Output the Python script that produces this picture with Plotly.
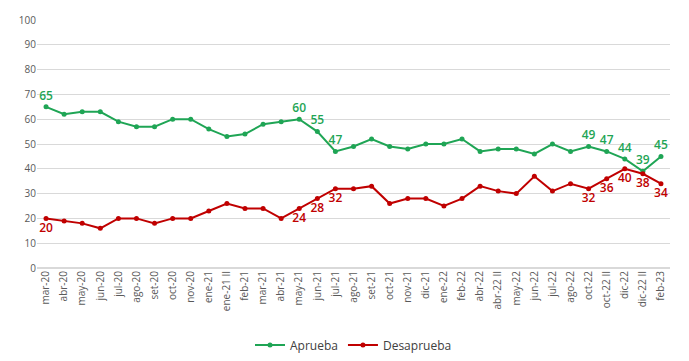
import plotly.graph_objects as go

categories = ["mar-20", "abr-20", "may-20", "jun-20", "jul-20", "ago-20", "set-20", "oct-20", "nov-20",
              "ene-21", "ene-21 II", "feb-21", "mar-21", "abr-21", "may-21", "jun-21", "jul-21", "ago-21",
              "set-21", "oct-21", "nov-21", "dic-21", "ene-22", "feb-22", "abr-22", "abr-22 II", "may-22",
              "jun-22", "jul-22", "ago-22", "oct-22", "oct-22 II", "dic-22", "dic-22 II", "feb-23"]
aprueba = [65, 62, 63, 63, 59, 57, 57, 60, 60, 56, 53, 54, 58, 59, 60, 55, 47, 49, 52, 49, 48, 50, 50, 52,
           47, 48, 48, 46, 50, 47, 49, 47, 44, 39, 45]
desaprueba = [20, 19, 18, 16, 20, 20, 18, 20, 20, 23, 26, 24, 24, 20, 24, 28, 32, 32, 33, 26, 28, 28, 25, 28,
              33, 31, 30, 37, 31, 34, 32, 36, 40, 38, 34]
labeled = [0, 14, 15, 16, 30, 31, 32, 33, 34]
yticks = list(range(0, 101, 10))

green = "#1fa555"
red = "#c00000"

ap_text = [str(v) if i in labeled else "" for i, v in enumerate(aprueba)]
de_text = [str(v) if i in labeled else "" for i, v in enumerate(desaprueba)]

fig = go.Figure()
fig.add_trace(go.Scatter(
    x=categories, y=aprueba, name="Aprueba", mode="lines+markers+text",
    line=dict(color=green, width=2), marker=dict(size=5, color=green),
    text=ap_text, textposition="top center",
    textfont=dict(color=green, size=12, family="Open Sans", weight=600),
))
fig.add_trace(go.Scatter(
    x=categories, y=desaprueba, name="Desaprueba", mode="lines+markers+text",
    line=dict(color=red, width=2), marker=dict(size=5, color=red),
    text=de_text, textposition="bottom center",
    textfont=dict(color=red, size=12, family="Open Sans", weight=600),
))

fig.update_layout(
    width=681, height=353,
    margin=dict(l=29, r=19, t=12, b=93, autoexpand=False),
    paper_bgcolor="white", plot_bgcolor="white",
    font=dict(family="Open Sans", size=10, color="#595959"),
    showlegend=True,
    legend=dict(orientation="h", x=0.5, xanchor="center", yref="container", y=0.045, yanchor="middle",
                font=dict(size=12, color="#404040")),
    xaxis=dict(type="category", range=[-0.5, len(categories) - 0.5], tickangle=-90, automargin=False,
               showgrid=False, showline=False, ticks="", tickfont=dict(size=10)),
    yaxis=dict(range=[0, 100], tickvals=yticks, showgrid=True, gridcolor="#d9d9d9", automargin=False,
               gridwidth=1, zeroline=True, zerolinecolor="#d9d9d9", ticks="",
               tickfont=dict(size=10)),
)

fig.write_html("out.html")
